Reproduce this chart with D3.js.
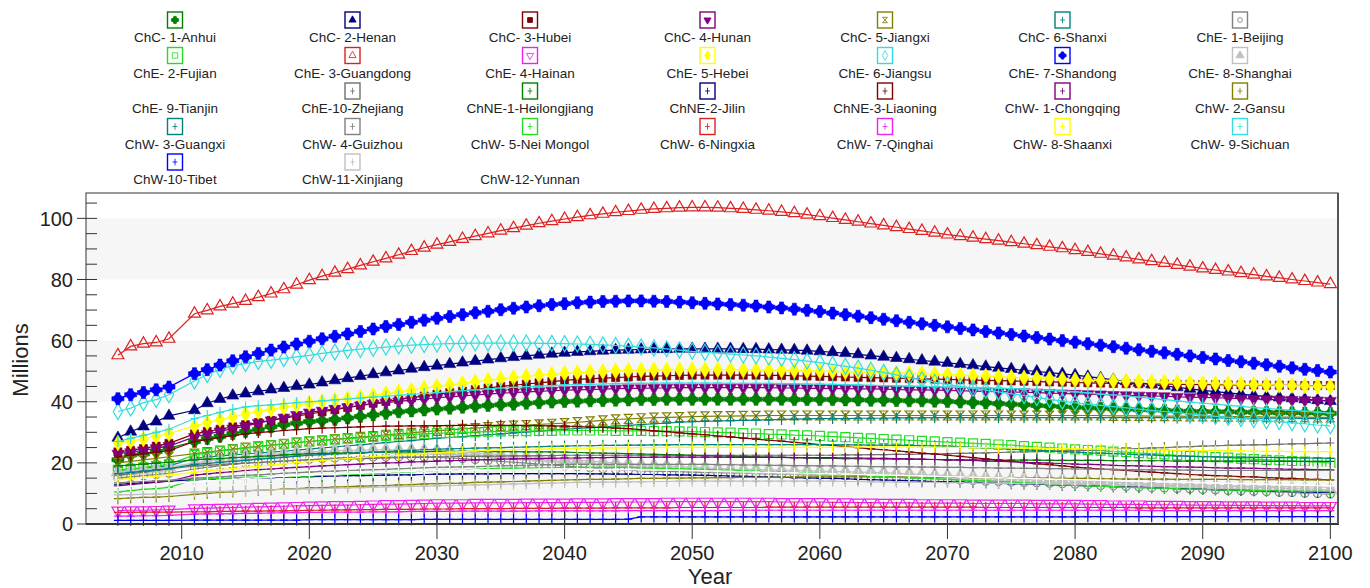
<!DOCTYPE html>
<html lang="en">
<head>
<meta charset="UTF-8">
<title>Population by province</title>
<script src="https://cdn.jsdelivr.net/npm/d3@7"></script>
<style>
  body { margin: 0; background: #fff; }
  svg { display: block; font-family: "Liberation Sans", Arial, sans-serif; }
</style>
</head>
<body>
<svg id="chart" width="1370" height="588"></svg>
<script>
// years: 2010 has no point in the source chart
const years = [2005, 2006, 2007, 2008, 2009].concat(d3.range(2011, 2101));

const names = [
  "ChC- 1-Anhui", "ChC- 2-Henan", "ChC- 3-Hubei", "ChC- 4-Hunan", "ChC- 5-Jiangxi", "ChC- 6-Shanxi", "ChE- 1-Beijing",
  "ChE- 2-Fujian", "ChE- 3-Guangdong", "ChE- 4-Hainan", "ChE- 5-Hebei", "ChE- 6-Jiangsu", "ChE- 7-Shandong", "ChE- 8-Shanghai",
  "ChE- 9-Tianjin", "ChE-10-Zhejiang", "ChNE-1-Heilongjiang", "ChNE-2-Jilin", "ChNE-3-Liaoning", "ChW- 1-Chongqing", "ChW- 2-Gansu",
  "ChW- 3-Guangxi", "ChW- 4-Guizhou", "ChW- 5-Nei Mongol", "ChW- 6-Ningxia", "ChW- 7-Qinghai", "ChW- 8-Shaanxi", "ChW- 9-Sichuan",
  "ChW-10-Tibet", "ChW-11-Xinjiang", "ChW-12-Yunnan"
];

// values in millions, 2005-2009 then 2011-2100
const anhui = [21.0,22.6,22.9,23.7,24.8,
27.0,28.0,28.7,29.6,30.3,30.9,31.8,32.5,33.0,33.5,
33.8,34.2,34.7,35.2,35.7,36.2,36.7,37.0,37.3,37.6,
37.9,38.2,38.5,38.8,39.0,39.2,39.5,39.7,39.9,40.1,
40.2,40.3,40.4,40.5,40.6,40.7,40.7,40.8,40.8,40.8,
40.8,40.8,40.8,40.8,40.8,40.8,40.8,40.7,40.7,40.7,
40.7,40.6,40.6,40.5,40.5,40.4,40.3,40.3,40.2,40.1,
39.9,39.7,39.6,39.4,39.2,39.0,38.8,38.6,38.4,38.2,
38.0,37.9,37.7,37.6,37.4,37.3,37.2,37.0,36.9,36.8,
36.7,36.7,36.6,36.6,36.5,36.4,36.4,36.3,36.3,36.2];
const henan = [28.2,30.2,31.9,33.5,35.4,
37.2,39.5,40.9,42.0,42.7,43.4,44.0,44.5,45.1,45.6,
46.3,47.0,47.7,48.4,49.0,49.6,50.2,50.8,51.3,51.8,
52.3,52.8,53.3,53.8,54.2,54.6,55.0,55.4,55.7,56.0,
56.3,56.5,56.7,56.9,57.0,57.1,57.2,57.2,57.3,57.3,
57.3,57.3,57.3,57.2,57.2,57.1,57.0,56.9,56.7,56.5,
56.2,55.9,55.5,55.1,54.7,54.3,53.9,53.5,53.1,52.7,
52.3,51.9,51.5,51.1,50.7,50.3,49.9,49.5,49.1,48.7,
48.2,47.7,47.2,46.7,46.2,45.7,45.2,44.7,44.2,43.7,
43.3,42.9,42.5,42.1,41.7,41.4,41.1,40.8,40.5,40.2];
const hubei = [23.6,24.1,24.7,25.5,26.4,
29.5,30.3,31.0,31.8,32.5,33.2,33.9,34.6,35.3,36.0,
36.7,37.4,38.1,38.8,39.5,40.1,40.7,41.3,41.9,42.5,
43.0,43.5,44.0,44.5,45.0,45.4,45.8,46.2,46.6,47.0,
47.3,47.5,47.7,47.9,48.1,48.3,48.4,48.5,48.6,48.7,
48.7,48.7,48.7,48.7,48.7,48.6,48.6,48.5,48.4,48.3,
48.2,48.1,48.0,47.9,47.8,47.7,47.6,47.5,47.4,47.3,
47.2,47.1,47.0,46.9,46.8,46.7,46.6,46.5,46.4,46.3,
46.2,46.1,46.0,45.9,45.9,45.8,45.8,45.7,45.7,45.6,
45.6,45.5,45.5,45.5,45.4,45.4,45.4,45.3,45.3,45.3];
const hunan = [23.0,23.5,24.1,24.8,25.5,
28.5,29.4,30.3,31.2,32.0,33.0,33.9,34.8,35.7,36.5,
37.1,37.7,38.2,38.8,39.3,39.7,40.1,40.5,40.9,41.3,
41.6,41.9,42.2,42.5,42.8,43.0,43.2,43.4,43.6,43.8,
43.9,44.0,44.1,44.3,44.4,44.4,44.5,44.5,44.6,44.6,
44.6,44.6,44.6,44.6,44.6,44.6,44.5,44.5,44.4,44.4,
44.3,44.3,44.2,44.2,44.1,44.0,43.9,43.9,43.8,43.7,
43.6,43.5,43.4,43.3,43.2,43.1,43.0,42.8,42.7,42.6,
42.5,42.4,42.2,42.1,42.0,41.9,41.8,41.6,41.5,41.4,
41.3,41.2,41.0,40.9,40.8,40.7,40.6,40.5,40.4,40.3];
const jiangxi = [20.0,20.5,21.0,21.5,22.0,
23.0,23.5,24.0,24.5,25.0,25.4,25.8,26.2,26.6,27.0,
27.4,27.8,28.1,28.5,28.8,29.2,29.5,29.8,30.2,30.5,
30.8,31.1,31.4,31.7,32.0,32.2,32.4,32.6,32.8,33.0,
33.3,33.6,33.9,34.2,34.4,34.6,34.8,34.9,35.0,35.1,
35.2,35.3,35.3,35.4,35.4,35.5,35.5,35.5,35.5,35.5,
35.5,35.5,35.5,35.5,35.5,35.5,35.5,35.5,35.5,35.5,
35.5,35.5,35.5,35.5,35.5,35.5,35.5,35.5,35.5,35.5,
35.5,35.5,35.4,35.4,35.4,35.3,35.3,35.3,35.2,35.2,
35.2,35.1,35.1,35.1,35.0,35.0,35.0,35.0,34.9,34.9];
const shanxi = [17.5,17.9,18.3,18.6,19.0,
21.5,21.9,22.3,22.6,22.9,23.2,23.5,23.8,24.2,24.5,
24.9,25.2,25.6,25.9,26.3,26.6,27.0,27.3,27.7,28.0,
28.3,28.6,28.9,29.2,29.5,29.8,30.1,30.4,30.7,31.0,
31.3,31.5,31.8,32.0,32.3,32.5,32.8,33.0,33.3,33.5,
33.6,33.7,33.8,33.9,34.0,34.1,34.2,34.3,34.4,34.5,
34.5,34.5,34.6,34.6,34.6,34.7,34.7,34.7,34.8,34.8,
34.8,34.8,34.8,34.8,34.8,34.8,34.8,34.8,34.8,34.8,
34.8,34.8,34.8,34.8,34.8,34.8,34.8,34.7,34.7,34.7,
34.7,34.7,34.7,34.6,34.6,34.6,34.6,34.5,34.5,34.5];
const beijing = [15.0,15.4,15.8,16.2,16.6,
18.0,18.5,19.0,19.4,19.8,20.1,20.4,20.7,21.0,21.2,
21.4,21.6,21.7,21.8,21.9,21.9,21.9,21.9,21.9,21.8,
21.6,21.4,21.1,20.8,20.5,20.2,19.9,19.6,19.3,19.0,
18.7,18.4,18.1,17.8,17.6,17.4,17.3,17.2,17.1,17.0,
16.9,16.8,16.7,16.6,16.5,16.4,16.3,16.2,16.1,16.0,
15.9,15.8,15.7,15.6,15.5,15.3,15.1,14.9,14.8,14.6,
14.4,14.2,14.0,13.9,13.7,13.6,13.5,13.3,13.2,13.0,
12.8,12.6,12.5,12.3,12.1,11.9,11.8,11.6,11.5,11.3,
11.2,11.0,10.9,10.7,10.6,10.4,10.3,10.1,10.0,9.8];
const fujian = [17.7,18.0,18.5,19.0,19.5,
22.6,23.2,23.8,24.3,24.8,25.2,25.7,26.1,26.6,27.0,
27.3,27.6,27.9,28.2,28.5,28.8,29.0,29.3,29.5,29.7,
29.8,29.9,30.1,30.2,30.3,30.4,30.4,30.5,30.5,30.6,
30.6,30.6,30.6,30.5,30.5,30.5,30.4,30.4,30.3,30.2,
30.1,30.0,29.9,29.7,29.6,29.4,29.3,29.1,29.0,28.8,
28.6,28.4,28.2,28.0,27.8,27.6,27.4,27.2,27.0,26.8,
26.6,26.4,26.2,26.0,25.8,25.5,25.2,25.0,24.7,24.4,
24.2,24.0,23.7,23.5,23.2,23.0,22.8,22.5,22.3,22.1,
21.9,21.7,21.4,21.2,21.0,20.8,20.6,20.4,20.2,20.0];
const guangdong = [55.2,58.1,59.0,59.4,60.6,
68.8,69.9,71.2,72.1,73.0,74.2,75.4,76.8,78.3,79.8,
81.1,82.2,83.4,84.6,85.8,86.9,88.1,89.3,90.4,91.4,
92.3,93.3,94.2,95.1,96.0,96.8,97.6,98.4,99.1,99.8,
100.4,101.0,101.5,102.0,102.4,102.8,103.1,103.3,103.5,103.6,
103.6,103.5,103.3,103.1,102.8,102.5,102.1,101.7,101.2,100.7,
100.1,99.5,98.9,98.3,97.7,97.1,96.5,95.9,95.3,94.7,
94.2,93.7,93.2,92.7,92.2,91.7,91.2,90.7,90.2,89.6,
89.0,88.4,87.8,87.2,86.6,86.0,85.4,84.8,84.2,83.6,
83.1,82.6,82.1,81.6,81.0,80.5,80.0,79.5,79.0,78.5];
const hainan = [4.4,4.5,4.5,4.6,4.7,
5.1,5.2,5.3,5.4,5.5,5.6,5.7,5.8,5.9,6.0,
6.1,6.2,6.2,6.3,6.4,6.5,6.5,6.6,6.7,6.8,
6.8,6.8,6.9,6.9,6.9,6.9,7.0,7.0,7.0,7.0,
7.1,7.1,7.1,7.2,7.2,7.2,7.2,7.3,7.3,7.3,
7.3,7.3,7.3,7.3,7.3,7.3,7.2,7.2,7.2,7.2,
7.1,7.1,7.0,7.0,6.9,6.9,6.9,6.8,6.8,6.8,
6.8,6.7,6.7,6.7,6.7,6.7,6.6,6.6,6.6,6.6,
6.5,6.5,6.4,6.4,6.4,6.3,6.3,6.3,6.2,6.2,
6.2,6.1,6.1,6.1,6.0,6.0,6.0,5.9,5.9,5.9];
const hebei = [26.5,27.1,27.8,28.7,29.6,
32.0,33.2,34.2,35.1,36.0,36.8,37.5,38.2,38.9,39.5,
40.0,40.5,41.0,41.5,42.0,42.6,43.2,43.8,44.4,45.0,
45.5,46.0,46.5,47.0,47.5,47.9,48.3,48.7,49.0,49.3,
49.5,49.7,49.9,50.1,50.2,50.3,50.4,50.4,50.5,50.5,
50.5,50.5,50.5,50.4,50.4,50.3,50.3,50.2,50.1,50.0,
49.9,49.8,49.7,49.6,49.5,49.4,49.3,49.2,49.0,48.9,
48.7,48.5,48.4,48.2,48.0,47.8,47.7,47.5,47.4,47.2,
47.1,47.0,46.8,46.7,46.6,46.5,46.4,46.2,46.1,46.0,
45.9,45.8,45.7,45.6,45.5,45.4,45.3,45.2,45.1,45.0];
const jiangsu = [36.8,37.9,39.7,40.7,42.3,
46.8,48.9,50.6,51.8,52.5,53.2,53.6,54.1,54.7,55.2,
55.8,56.3,56.8,57.2,57.5,57.9,58.2,58.5,58.7,58.9,
59.0,59.1,59.2,59.2,59.2,59.2,59.2,59.1,59.1,59.0,
58.9,58.8,58.6,58.4,58.2,57.9,57.6,57.3,56.9,56.5,
56.2,55.9,55.6,55.3,55.0,54.6,54.2,53.8,53.3,52.8,
52.2,51.6,51.0,50.3,49.6,48.8,48.0,47.2,46.4,45.6,
45.0,44.4,43.8,43.2,42.6,42.0,41.4,40.8,40.2,39.6,
39.2,38.8,38.4,38.0,37.6,37.2,36.8,36.4,36.0,35.6,
35.2,34.9,34.5,34.2,33.8,33.5,33.1,32.8,32.4,32.1];
const shandong = [41.0,42.3,43.0,43.9,44.8,
49.2,50.5,52.0,53.4,54.7,55.8,56.9,57.9,58.9,59.8,
60.6,61.4,62.2,63.0,63.8,64.6,65.3,66.0,66.7,67.3,
67.9,68.5,69.1,69.6,70.1,70.6,71.0,71.4,71.8,72.1,
72.4,72.6,72.8,72.9,73.0,73.0,72.9,72.8,72.6,72.4,
72.2,72.0,71.8,71.6,71.3,71.0,70.7,70.3,69.9,69.5,
69.0,68.5,68.0,67.5,67.0,66.5,66.0,65.5,65.0,64.5,
64.0,63.5,63.0,62.5,62.0,61.5,61.0,60.5,60.0,59.5,
59.0,58.5,58.0,57.5,57.0,56.5,56.0,55.5,55.0,54.5,
54.0,53.5,53.1,52.6,52.1,51.6,51.1,50.6,50.2,49.7];
const shanghai = [17.0,17.4,17.8,18.2,18.6,
20.0,20.6,21.1,21.6,22.0,22.4,22.8,23.1,23.4,23.6,
23.8,24.0,24.1,24.2,24.3,24.3,24.3,24.2,24.1,24.0,
23.8,23.6,23.3,23.0,22.7,22.4,22.1,21.8,21.5,21.2,
20.9,20.6,20.3,20.0,19.7,19.4,19.2,19.0,18.8,18.6,
18.4,18.2,18.0,17.9,17.8,17.7,17.6,17.5,17.4,17.3,
17.2,17.1,17.0,16.9,16.8,16.6,16.4,16.2,16.0,15.8,
15.6,15.4,15.2,15.0,14.8,14.7,14.6,14.5,14.4,14.3,
14.1,13.9,13.7,13.5,13.3,13.2,13.1,13.0,12.9,12.7,
12.6,12.4,12.2,12.0,11.9,11.8,11.6,11.5,11.3,11.2];
const tianjin = [14.0,14.5,15.0,15.5,16.0,
17.5,18.0,18.5,19.0,19.5,19.9,20.3,20.7,21.1,21.5,
21.8,22.1,22.4,22.7,23.0,23.3,23.6,23.9,24.2,24.5,
24.6,24.7,24.8,24.9,25.0,25.1,25.2,25.3,25.4,25.5,
25.5,25.5,25.4,25.4,25.3,25.3,25.2,25.2,25.1,25.0,
24.9,24.8,24.7,24.6,24.5,24.4,24.3,24.2,24.1,24.0,
23.8,23.7,23.5,23.4,23.2,23.1,22.9,22.8,22.6,22.5,
22.3,22.2,22.0,21.9,21.7,21.6,21.4,21.3,21.1,21.0,
20.8,20.7,20.5,20.4,20.2,20.1,19.9,19.8,19.6,19.5,
19.4,19.3,19.2,19.1,19.0,18.9,18.8,18.7,18.6,18.5];
const zhejiang = [16.0,16.5,17.0,17.5,18.0,
19.0,19.2,19.4,19.7,19.9,20.1,20.3,20.6,20.8,21.0,
21.1,21.2,21.3,21.4,21.5,21.6,21.7,21.8,21.9,22.0,
22.0,22.1,22.1,22.2,22.2,22.3,22.3,22.4,22.4,22.5,
22.5,22.5,22.5,22.5,22.5,22.5,22.5,22.5,22.5,22.5,
22.5,22.5,22.5,22.5,22.5,22.5,22.5,22.5,22.5,22.5,
22.5,22.6,22.6,22.7,22.7,22.8,22.8,22.9,22.9,23.0,
23.1,23.2,23.3,23.4,23.5,23.6,23.7,23.8,23.9,24.0,
24.1,24.3,24.4,24.6,24.7,24.9,25.0,25.2,25.3,25.5,
25.6,25.7,25.8,25.9,26.0,26.1,26.2,26.3,26.4,26.5];
const heilongjiang = [19.0,19.3,19.6,19.9,20.2,
21.0,21.2,21.4,21.7,21.9,22.1,22.3,22.6,22.8,23.0,
23.1,23.2,23.2,23.3,23.4,23.5,23.6,23.6,23.7,23.8,
23.8,23.8,23.8,23.7,23.7,23.7,23.6,23.6,23.6,23.5,
23.4,23.3,23.2,23.1,23.0,22.9,22.8,22.7,22.6,22.5,
22.4,22.3,22.2,22.1,22.0,21.9,21.8,21.7,21.6,21.5,
21.5,21.4,21.4,21.3,21.3,21.2,21.2,21.1,21.1,21.0,
21.0,21.0,21.0,20.9,20.9,20.9,20.9,20.8,20.8,20.8,
20.8,20.8,20.7,20.7,20.7,20.7,20.7,20.6,20.6,20.6,
20.6,20.6,20.6,20.6,20.5,20.5,20.5,20.5,20.5,20.5];
const jilin = [13.0,13.2,13.5,13.8,14.0,
14.5,14.6,14.7,14.8,14.9,15.1,15.2,15.3,15.4,15.5,
15.6,15.7,15.8,15.8,15.9,16.0,16.1,16.1,16.2,16.3,
16.3,16.4,16.4,16.4,16.5,16.5,16.5,16.5,16.5,16.5,
16.5,16.4,16.4,16.3,16.3,16.2,16.2,16.1,16.1,16.0,
15.9,15.8,15.7,15.6,15.5,15.4,15.3,15.2,15.1,15.0,
14.9,14.8,14.6,14.5,14.4,14.3,14.2,14.0,13.9,13.8,
13.7,13.6,13.5,13.3,13.2,13.1,13.0,12.9,12.7,12.6,
12.5,12.4,12.2,12.1,12.0,11.9,11.7,11.6,11.5,11.3,
11.2,11.1,11.0,10.9,10.8,10.7,10.6,10.5,10.4,10.3];
const liaoning = [22.0,22.5,23.0,23.5,24.0,
27.0,27.6,28.3,28.9,29.5,29.9,30.2,30.6,30.9,31.2,
31.4,31.5,31.6,31.8,31.9,32.0,32.0,32.1,32.1,32.2,
32.2,32.3,32.3,32.3,32.3,32.3,32.2,32.2,32.1,32.0,
31.9,31.7,31.6,31.4,31.2,30.9,30.5,30.2,29.8,29.5,
29.2,28.8,28.5,28.1,27.8,27.4,27.1,26.7,26.4,26.0,
25.7,25.3,25.0,24.6,24.3,23.9,23.6,23.2,22.9,22.5,
22.1,21.7,21.3,20.9,20.5,20.1,19.7,19.4,19.0,18.6,
18.3,18.0,17.8,17.5,17.2,17.0,16.7,16.5,16.2,16.0,
15.8,15.7,15.5,15.4,15.2,15.0,14.9,14.7,14.6,14.4];
const chongqing = [12.5,12.9,13.3,13.6,14.0,
16.0,16.4,16.8,17.1,17.5,17.8,18.0,18.3,18.5,18.8,
19.0,19.2,19.4,19.6,19.8,20.0,20.1,20.3,20.4,20.6,
20.7,20.8,21.0,21.1,21.2,21.3,21.4,21.4,21.5,21.6,
21.6,21.7,21.7,21.8,21.8,21.8,21.9,21.9,21.9,21.9,
21.9,21.9,21.8,21.8,21.8,21.8,21.8,21.7,21.7,21.7,
21.7,21.6,21.6,21.5,21.5,21.4,21.3,21.2,21.1,21.0,
20.9,20.8,20.6,20.5,20.4,20.2,20.1,19.9,19.8,19.6,
19.5,19.4,19.2,19.1,19.0,18.9,18.8,18.7,18.6,18.5,
18.4,18.3,18.3,18.2,18.1,18.0,17.9,17.9,17.8,17.7];
const gansu = [8.3,8.5,8.7,8.8,9.0,
9.7,10.0,10.3,10.5,10.8,11.0,11.2,11.4,11.6,11.8,
11.9,12.1,12.2,12.4,12.5,12.6,12.8,12.9,13.1,13.2,
13.3,13.4,13.6,13.7,13.8,13.9,14.0,14.2,14.3,14.4,
14.5,14.6,14.6,14.7,14.8,14.9,14.9,15.0,15.0,15.1,
15.1,15.2,15.2,15.3,15.3,15.3,15.3,15.4,15.4,15.4,
15.4,15.4,15.4,15.4,15.4,15.4,15.4,15.3,15.3,15.3,
15.3,15.2,15.2,15.1,15.1,15.1,15.0,15.0,14.9,14.9,
14.9,14.8,14.8,14.7,14.7,14.7,14.7,14.6,14.6,14.6,
14.6,14.6,14.5,14.5,14.5,14.5,14.5,14.4,14.4,14.4];
const guangxi = [16.5,16.9,17.3,17.7,18.1,
19.5,19.8,20.2,20.5,20.8,21.2,21.5,21.8,22.2,22.5,
22.7,22.9,23.1,23.3,23.5,23.7,23.9,24.1,24.3,24.5,
24.6,24.7,24.8,24.9,25.0,25.1,25.2,25.3,25.4,25.5,
25.6,25.6,25.7,25.7,25.8,25.8,25.9,25.9,26.0,26.0,
26.0,26.0,26.0,26.0,26.0,26.0,26.0,26.0,26.0,26.0,
26.0,25.9,25.9,25.8,25.8,25.7,25.7,25.6,25.6,25.5,
25.3,25.1,24.9,24.7,24.5,24.3,24.1,23.9,23.7,23.5,
23.3,23.2,23.0,22.9,22.7,22.6,22.4,22.3,22.1,22.0,
22.0,21.9,21.9,21.8,21.8,21.7,21.7,21.6,21.6,21.5];
const guizhou = [13.5,13.7,13.9,14.1,14.3,
15.0,15.2,15.4,15.7,15.9,16.1,16.3,16.6,16.8,17.0,
17.2,17.3,17.5,17.6,17.8,17.9,18.1,18.2,18.4,18.5,
18.6,18.7,18.8,18.9,19.0,19.1,19.2,19.3,19.4,19.5,
19.5,19.5,19.5,19.5,19.5,19.5,19.5,19.5,19.5,19.5,
19.5,19.4,19.4,19.3,19.3,19.2,19.2,19.1,19.1,19.0,
19.0,18.9,18.9,18.8,18.8,18.7,18.7,18.6,18.6,18.5,
18.5,18.4,18.4,18.3,18.3,18.2,18.2,18.1,18.1,18.0,
18.0,17.9,17.9,17.8,17.8,17.7,17.7,17.6,17.6,17.5,
17.5,17.5,17.5,17.5,17.5,17.5,17.5,17.5,17.5,17.5];
const neiMongol = [10.5,10.9,11.3,11.6,12.0,
14.5,14.7,14.9,15.1,15.3,15.4,15.5,15.5,15.6,15.7,
15.9,16.0,16.2,16.3,16.5,16.7,16.9,17.1,17.3,17.5,
17.6,17.8,17.9,18.1,18.2,18.3,18.3,18.4,18.4,18.5,
18.5,18.5,18.5,18.5,18.5,18.4,18.3,18.2,18.1,18.0,
17.9,17.7,17.6,17.4,17.3,17.1,17.0,16.8,16.7,16.5,
16.3,16.1,15.9,15.7,15.5,15.3,15.1,15.0,14.8,14.6,
14.4,14.2,14.1,13.9,13.7,13.5,13.3,13.0,12.8,12.6,
12.5,12.3,12.2,12.0,11.9,11.8,11.7,11.5,11.4,11.3,
11.2,11.1,11.1,11.0,10.9,10.8,10.8,10.7,10.7,10.6];
const ningxia = [3.8,3.8,3.9,3.9,3.9,
4.0,4.0,4.1,4.1,4.2,4.2,4.3,4.3,4.4,4.5,
4.5,4.6,4.6,4.7,4.7,4.8,4.8,4.8,4.9,4.9,
4.9,5.0,5.0,5.0,5.0,5.1,5.1,5.1,5.1,5.2,
5.2,5.2,5.2,5.3,5.3,5.3,5.3,5.3,5.4,5.4,
5.4,5.4,5.4,5.4,5.4,5.5,5.5,5.5,5.5,5.5,
5.5,5.5,5.5,5.5,5.5,5.5,5.5,5.5,5.5,5.5,
5.5,5.5,5.4,5.4,5.4,5.4,5.4,5.4,5.4,5.4,
5.4,5.4,5.4,5.4,5.3,5.3,5.3,5.3,5.3,5.3,
5.3,5.3,5.3,5.3,5.3,5.3,5.3,5.3,5.3,5.3];
const qinghai = [2.6,2.6,2.7,2.7,2.8,
3.2,3.3,3.3,3.4,3.5,3.5,3.6,3.7,3.7,3.8,
3.8,3.9,3.9,3.9,4.0,4.0,4.0,4.1,4.1,4.1,
4.1,4.2,4.2,4.2,4.2,4.2,4.2,4.3,4.3,4.3,
4.3,4.3,4.3,4.3,4.4,4.4,4.4,4.4,4.4,4.4,
4.4,4.4,4.5,4.5,4.5,4.5,4.5,4.5,4.5,4.5,
4.5,4.5,4.5,4.5,4.5,4.5,4.5,4.5,4.5,4.5,
4.5,4.5,4.5,4.5,4.5,4.5,4.5,4.5,4.5,4.5,
4.5,4.5,4.5,4.5,4.5,4.4,4.4,4.4,4.4,4.4,
4.4,4.4,4.4,4.4,4.4,4.4,4.4,4.4,4.4,4.4];
const shaanxi = [14.5,14.9,15.3,15.6,16.0,
17.0,17.4,17.8,18.1,18.5,18.9,19.3,19.7,20.1,20.5,
20.8,21.1,21.4,21.7,22.0,22.3,22.5,22.8,23.0,23.3,
23.5,23.7,23.9,24.0,24.2,24.3,24.4,24.5,24.6,24.7,
24.8,24.8,24.9,24.9,25.0,25.0,25.0,25.1,25.1,25.1,
25.1,25.1,25.1,25.1,25.1,25.1,25.1,25.1,25.1,25.1,
25.1,25.1,25.2,25.2,25.2,25.2,25.2,25.1,25.1,25.1,
25.1,25.0,25.0,24.9,24.9,24.8,24.8,24.7,24.7,24.6,
24.5,24.5,24.4,24.4,24.3,24.2,24.2,24.1,24.1,24.0,
24.0,23.9,23.9,23.8,23.8,23.8,23.7,23.7,23.7,23.7];
const sichuan = [27.0,28.0,29.0,30.0,31.0,
34.5,35.5,36.5,37.5,38.3,38.7,39.0,39.4,39.7,40.0,
40.3,40.6,40.9,41.2,41.5,41.8,42.1,42.4,42.7,43.0,
43.3,43.6,43.9,44.2,44.5,44.7,44.9,45.1,45.3,45.5,
45.6,45.7,45.8,45.9,46.0,46.0,46.1,46.1,46.1,46.1,
46.1,46.1,46.0,46.0,46.0,46.0,45.9,45.9,45.8,45.8,
45.7,45.6,45.5,45.4,45.3,45.2,45.1,45.0,44.9,44.8,
44.7,44.6,44.5,44.4,44.3,44.1,43.9,43.7,43.5,43.2,
42.9,42.5,42.2,41.9,41.5,41.1,40.7,40.3,39.9,39.5,
39.2,38.8,38.5,38.1,37.8,37.5,37.2,36.9,36.6,36.3];
const tibet = [1.2,1.2,1.2,1.2,1.2,
1.3,1.3,1.3,1.3,1.3,1.3,1.3,1.3,1.3,1.4,
1.4,1.4,1.4,1.4,1.4,1.4,1.4,1.4,1.5,1.5,
1.5,1.5,1.5,1.5,1.5,1.5,1.5,1.5,1.5,1.5,
1.5,1.5,1.5,1.5,1.6,2.3,2.3,2.3,2.3,2.3,
2.3,2.3,2.3,2.3,2.3,2.3,2.3,2.3,2.3,2.3,
2.3,2.3,2.3,2.3,2.3,2.3,2.3,2.3,2.3,2.3,
2.3,2.3,2.3,2.3,2.3,2.3,2.3,2.3,2.3,2.3,
2.4,2.4,2.4,2.4,2.4,2.4,2.4,2.4,2.4,2.4,
2.4,2.4,2.4,2.4,2.4,2.4,2.4,2.4,2.4,2.4];
const xinjiang = [9.5,9.6,9.7,9.8,9.9,
10.5,10.6,10.7,10.8,10.9,11.1,11.2,11.3,11.4,11.5,
11.6,11.7,11.8,11.9,12.0,12.1,12.2,12.3,12.4,12.5,
12.6,12.7,12.8,12.9,13.0,13.1,13.2,13.3,13.4,13.5,
13.6,13.6,13.7,13.7,13.8,13.8,13.9,13.9,14.0,14.0,
14.0,14.0,14.0,14.0,14.0,14.0,14.0,14.0,14.0,14.0,
14.0,13.9,13.9,13.8,13.8,13.7,13.7,13.6,13.6,13.5,
13.5,13.4,13.4,13.3,13.3,13.2,13.2,13.1,13.1,13.0,
13.0,12.9,12.9,12.8,12.8,12.7,12.7,12.6,12.6,12.5,
12.5,12.4,12.4,12.3,12.3,12.2,12.2,12.1,12.1,12.0];
const yunnan = [12.0,12.3,12.6,12.9,13.2,
13.8,14.1,14.4,14.6,14.9,15.1,15.4,15.6,15.8,16.0,
16.2,16.3,16.5,16.6,16.8,16.9,17.1,17.2,17.4,17.5,
17.6,17.6,17.7,17.7,17.8,17.8,17.9,17.9,18.0,18.0,
18.0,17.9,17.9,17.8,17.8,17.7,17.7,17.6,17.6,17.5,
17.4,17.3,17.2,17.1,17.0,16.9,16.8,16.7,16.6,16.5,
16.4,16.3,16.2,16.1,16.0,15.9,15.8,15.7,15.6,15.5,
15.4,15.3,15.2,15.1,15.0,14.9,14.8,14.7,14.6,14.5,
14.4,14.3,14.2,14.1,14.0,13.9,13.8,13.7,13.6,13.5,
13.4,13.3,13.2,13.1,13.0,12.9,12.8,12.7,12.6,12.5];

const seriesValues = [anhui, henan, hubei, hunan, jiangxi, shanxi, beijing,
  fujian, guangdong, hainan, hebei, jiangsu, shandong, shanghai,
  tianjin, zhejiang, heilongjiang, jilin, liaoning, chongqing, gansu,
  guangxi, guizhou, neiMongol, ningxia, qinghai, shaanxi, sichuan,
  tibet, xinjiang, yunnan];

const yTicks = [0, 20, 40, 60, 80, 100];
const yMinor = [5, 10, 15, 25, 30, 35, 45, 50, 55, 65, 70, 75, 85, 90, 95, 105];
const xTicks = [2010, 2020, 2030, 2040, 2050, 2060, 2070, 2080, 2090, 2100];

// style cycle of the plotting program
const palette = ["#008000", "#000080", "#800000", "#800080", "#808000", "#008080", "#808080",
  "#22dd22", "#dd2020", "#ee22ee", "#ffff00", "#33dddd", "#0000ff", "#c0c0c0", "#ffffff", "#707070"];
const shapeList = ["blob", "triUp", "square", "triDown", "hourglass", "plus", "circle",
  "squareOpen", "triUpOpen", "triDownOpen", "diamond", "diamondOpen", "blob", "triUp", "plus"];

const svg = d3.select("#chart");
const margin = { left: 86, right: 1338, top: 193, bottom: 524 };

const x = d3.scaleLinear().domain([2002.5, 2100.6]).range([margin.left, margin.right]);
const y = d3.scaleLinear().domain([0, 108.3]).range([margin.bottom, margin.top]);

function shapePath(shape, i) {
  if (shape === "blob") return d3.symbol(d3.symbolCircle, 64)() + d3.symbol(d3.symbolCross, 80)();
  if (shape === "triUp" && i === 13) return d3.symbol(d3.symbolTriangle, 80)();
  if (shape === "triUp" || shape === "triUpOpen" || shape === "triDown" || shape === "triDownOpen")
    return d3.symbol(d3.symbolTriangle, 62)();
  if (shape === "square") return d3.symbol(d3.symbolSquare, 66)();
  if (shape === "squareOpen") return d3.symbol(d3.symbolSquare, 82)();
  if (shape === "diamond" || shape === "diamondOpen") return d3.symbol(d3.symbolDiamond, 74)();
  if (shape === "circle") return d3.symbol(d3.symbolCircle, 50)();
  if (shape === "hourglass") return "M-4,-4.5H4L-4,4.5H4Z";
  return "M0,-5.5V5.5M-4,0H4";
}
function isFilled(shape) {
  return ["blob", "triUp", "square", "triDown", "diamond"].includes(shape);
}

const series = names.map(function (name, i) {
  const shape = i < shapeList.length ? shapeList[i] : "plus";
  return {
    index: i,
    name: name,
    color: palette[i % palette.length],
    shape: shape,
    points: years.map(function (yr, j) { return [yr, seriesValues[i][j]]; })
  };
});

// background bands
const bands = [[0, 20], [40, 60], [80, 100]];
svg.append("g").selectAll("rect").data(bands).join("rect")
  .attr("x", margin.left)
  .attr("width", margin.right - margin.left)
  .attr("y", d => y(d[1]))
  .attr("height", d => y(d[0]) - y(d[1]))
  .attr("fill", "#f6f6f6");

// series
const line = d3.line().x(d => x(d[0])).y(d => y(d[1]));
const plot = svg.append("g");
series.forEach(function (s) {
  const g = plot.append("g");
  g.append("path")
    .attr("d", line(s.points))
    .attr("fill", "none")
    .attr("stroke", s.color)
    .attr("stroke-width", 1.2);
  const p = shapePath(s.shape, s.index);
  const rot = (s.shape === "triDown" || s.shape === "triDownOpen") ? " rotate(180)" : "";
  g.selectAll("path.m").data(s.points).join("path")
    .attr("class", "m")
    .attr("d", p)
    .attr("transform", d => "translate(" + x(d[0]) + "," + y(d[1]) + ")" + rot)
    .attr("fill", isFilled(s.shape) ? s.color : "none")
    .attr("stroke", s.color)
    .attr("stroke-width", isFilled(s.shape) ? 0.6 : 1.2);
});

// frame
svg.append("rect")
  .attr("x", margin.left).attr("y", margin.top)
  .attr("width", margin.right - margin.left).attr("height", margin.bottom - margin.top)
  .attr("fill", "none").attr("stroke", "#555").attr("stroke-width", 1.2);
svg.append("line")
  .attr("x1", margin.left).attr("x2", margin.right + 1)
  .attr("y1", margin.bottom).attr("y2", margin.bottom)
  .attr("stroke", "#333").attr("stroke-width", 2);
svg.append("line")
  .attr("x1", margin.right).attr("x2", margin.right)
  .attr("y1", margin.top).attr("y2", margin.bottom)
  .attr("stroke", "#555").attr("stroke-width", 2);

// y axis
const yAxis = svg.append("g").attr("stroke", "#333");
yAxis.selectAll("line.major").data(yTicks).join("line")
  .attr("class", "major")
  .attr("x1", 77).attr("x2", 97)
  .attr("y1", d => y(d)).attr("y2", d => y(d));
yAxis.selectAll("line.minor").data(yMinor).join("line")
  .attr("class", "minor")
  .attr("x1", margin.left).attr("x2", 97)
  .attr("y1", d => y(d)).attr("y2", d => y(d));
svg.append("g").selectAll("text").data(yTicks).join("text")
  .attr("x", 73).attr("y", d => y(d))
  .attr("dy", "0.36em")
  .attr("text-anchor", "end")
  .attr("font-size", 20)
  .attr("fill", "#222")
  .text(d => d);

// x axis
svg.append("g").attr("stroke", "#333").selectAll("line").data(xTicks).join("line")
  .attr("x1", d => x(d)).attr("x2", d => x(d))
  .attr("y1", 511).attr("y2", 539);
svg.append("g").selectAll("text").data(xTicks).join("text")
  .attr("x", d => x(d)).attr("y", 560)
  .attr("text-anchor", "middle")
  .attr("font-size", 20)
  .attr("fill", "#222")
  .text(d => d);

// axis titles
svg.append("text")
  .attr("x", 710).attr("y", 584)
  .attr("text-anchor", "middle")
  .attr("font-size", 22)
  .attr("fill", "#222")
  .text("Year");
svg.append("text")
  .attr("transform", "translate(28,360) rotate(-90)")
  .attr("text-anchor", "middle")
  .attr("font-size", 22)
  .attr("fill", "#222")
  .text("Millions");

// legend
const legend = svg.append("g");
series.forEach(function (s, i) {
  const cx = 175 + (i % 7) * 177.5;
  const cy = 20 + Math.floor(i / 7) * 35.5;
  const item = legend.append("g").attr("transform", "translate(" + cx + "," + cy + ")");
  item.append("rect")
    .attr("x", -7.5).attr("y", -8).attr("width", 15).attr("height", 16)
    .attr("fill", "#fff")
    .attr("stroke", s.color)
    .attr("stroke-width", 1.4);
  const rot = (s.shape === "triDown" || s.shape === "triDownOpen") ? " rotate(180)" : "";
  item.append("path")
    .attr("d", shapePath(s.shape, i))
    .attr("transform", "scale(0.6)" + rot)
    .attr("fill", isFilled(s.shape) ? s.color : "none")
    .attr("stroke", s.color)
    .attr("stroke-width", 1.4);
  item.append("text")
    .attr("y", 22)
    .attr("text-anchor", "middle")
    .attr("font-size", 13.5)
    .attr("fill", "#222")
    .text(s.name);
});
</script>
</body>
</html>
